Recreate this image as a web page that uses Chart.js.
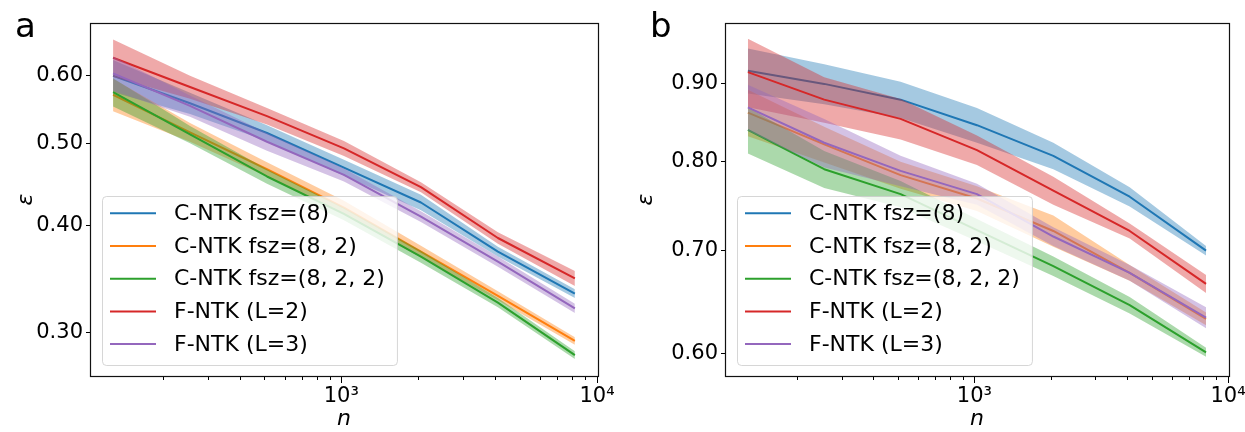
<!DOCTYPE html>
<html>
<head>
<meta charset="utf-8">
<script src="https://cdn.jsdelivr.net/npm/chart.js@4.4.1/dist/chart.umd.min.js"></script>
<style>
  html, body { margin: 0; padding: 0; background: #fff; }
  #wrap { position: relative; width: 1245px; height: 432px; }
  .panel { position: absolute; top: 0; height: 432px; }
</style>
</head>
<body>
<div id="wrap">
  <div class="panel" style="left:0;width:620px"><canvas id="chartA" width="620" height="432"></canvas></div>
  <div class="panel" style="left:620px;width:625px"><canvas id="chartB" width="625" height="432"></canvas></div>
</div>
<script>
// training set sizes
const nValues = [128, 256, 512, 1024, 2048, 4096, 8192];

const seriesLabels = ['C-NTK fsz=(8)', 'C-NTK fsz=(8, 2)', 'C-NTK fsz=(8, 2, 2)', 'F-NTK (L=2)', 'F-NTK (L=3)'];

// panel a : mean error and spread
const cntk8A = [0.600, 0.557, 0.514, 0.468, 0.426, 0.373, 0.333];
const cntk82A = [0.570, 0.515, 0.466, 0.420, 0.373, 0.331, 0.293];
const cntk822A = [0.574, 0.512, 0.457, 0.413, 0.368, 0.325, 0.282];
const fntk2A = [0.630, 0.582, 0.538, 0.493, 0.444, 0.387, 0.347];
const fntk3A = [0.604, 0.553, 0.502, 0.459, 0.410, 0.363, 0.320];

const cntk8StdA = [0.026, 0.016, 0.011, 0.010, 0.009, 0.005, 0.004];
const cntk82StdA = [0.025, 0.013, 0.009, 0.008, 0.006, 0.004, 0.003];
const cntk822StdA = [0.022, 0.012, 0.009, 0.007, 0.006, 0.004, 0.003];
const fntk2StdA = [0.032, 0.018, 0.012, 0.010, 0.006, 0.006, 0.007];
const fntk3StdA = [0.028, 0.016, 0.012, 0.008, 0.006, 0.005, 0.004];

// panel b
const cntk8B = [0.917, 0.899, 0.878, 0.845, 0.807, 0.759, 0.700];
const cntk82B = [0.861, 0.821, 0.784, 0.757, 0.721, 0.677, 0.632];
const cntk822B = [0.839, 0.791, 0.762, 0.722, 0.684, 0.645, 0.601];
const fntk2B = [0.915, 0.878, 0.853, 0.814, 0.766, 0.721, 0.666];
const fntk3B = [0.868, 0.823, 0.789, 0.762, 0.715, 0.677, 0.633];

const cntk8StdB = [0.031, 0.027, 0.024, 0.022, 0.016, 0.011, 0.005];
const cntk82StdB = [0.030, 0.022, 0.016, 0.014, 0.017, 0.008, 0.006];
const cntk822StdB = [0.029, 0.022, 0.015, 0.012, 0.010, 0.008, 0.004];
const fntk2StdB = [0.047, 0.030, 0.026, 0.018, 0.016, 0.008, 0.009];
const fntk3StdB = [0.030, 0.030, 0.018, 0.012, 0.010, 0.008, 0.010];

// axis ticks
const xTickValues = [200, 300, 400, 500, 600, 700, 800, 900, 1000, 2000, 3000, 4000, 5000, 6000, 7000, 8000, 9000, 10000];
const xMajorTicks = [1000, 10000];
const yTicksA = [0.3, 0.4, 0.5, 0.6];
const yTicksB = [0.6, 0.7, 0.8, 0.9];

const colors = ['#1f77b4', '#ff7f0e', '#2ca02c', '#d62728', '#9467bd'];
const bandColors = ['rgba(31,119,180,0.4)', 'rgba(255,127,14,0.4)', 'rgba(44,160,44,0.4)', 'rgba(214,39,40,0.4)', 'rgba(148,103,189,0.4)'];
const FONT = 'DejaVu Sans';

// build upper / lower / mean datasets for every series
function buildDatasets(means, stds) {
  const ds = [];
  means.forEach((m, k) => {
    const base = ds.length;
    const common = { pointRadius: 0, borderWidth: 0, borderColor: 'rgba(0,0,0,0)', tension: 0 };
    ds.push({ ...common, data: nValues.map((n, i) => ({ x: n, y: m[i] + stds[k][i] })), fill: base + 1, backgroundColor: bandColors[k], order: -base });
    ds.push({ ...common, data: nValues.map((n, i) => ({ x: n, y: m[i] - stds[k][i] })), fill: false, order: -(base + 1) });
    ds.push({ data: nValues.map((n, i) => ({ x: n, y: m[i] })), fill: false, pointRadius: 0, borderWidth: 2,
      borderColor: colors[k], borderJoinStyle: 'round', tension: 0, order: -(base + 2) });
  });
  return ds;
}

// frame, minor x ticks, legend box and panel letter
const panelDecor = {
  id: 'panelDecor',
  afterDraw(chart, args, opts) {
    const ctx = chart.ctx;
    const ca = chart.chartArea;
    const xs = chart.scales.x;
    ctx.save();
    ctx.strokeStyle = '#000';
    ctx.lineWidth = 1;
    xs.ticks.forEach(t => {
      if (xMajorTicks.includes(t.value)) return;
      const px = Math.round(xs.getPixelForValue(t.value)) + 0.5;
      ctx.beginPath();
      ctx.moveTo(px, ca.bottom);
      ctx.lineTo(px, ca.bottom + 4);
      ctx.stroke();
    });
    ctx.lineWidth = 1.2;
    ctx.strokeStyle = '#111';
    ctx.strokeRect(Math.round(ca.left) + 0.5, Math.round(ca.top) + 0.5, Math.round(ca.right - ca.left), Math.round(ca.bottom - ca.top));

    // legend
    ctx.font = '22px "' + FONT + '"';
    let maxW = 0;
    seriesLabels.forEach(l => { maxW = Math.max(maxW, ctx.measureText(l).width); });
    const rowH = 32.7;
    const boxH = 169;
    const boxW = 72 + maxW + 12;
    const bx = ca.left + 12;
    const by = ca.bottom - 11 - boxH;
    ctx.beginPath();
    ctx.roundRect(bx + 0.5, by + 0.5, boxW, boxH, 4);
    ctx.fillStyle = 'rgba(255,255,255,0.8)';
    ctx.fill();
    ctx.strokeStyle = 'rgba(204,204,204,0.8)';
    ctx.lineWidth = 1;
    ctx.stroke();
    seriesLabels.forEach((l, i) => {
      const y = by + 17.3 + i * rowH;
      ctx.beginPath();
      ctx.strokeStyle = colors[i];
      ctx.lineWidth = 2;
      ctx.moveTo(bx + 8, y);
      ctx.lineTo(bx + 54, y);
      ctx.stroke();
      ctx.fillStyle = '#000';
      ctx.textBaseline = 'middle';
      ctx.textAlign = 'left';
      ctx.fillText(l, bx + 72, y + 1);
    });

    // panel letter
    ctx.font = '34px "' + FONT + '"';
    ctx.textBaseline = 'alphabetic';
    ctx.fillStyle = '#000';
    ctx.fillText(opts.letter, opts.letterX, 37);
    ctx.restore();
  }
};

function makeChart(canvasId, datasets, yMin, yMax, yTicks, yWidth, padRight, letter, letterX) {
  return new Chart(document.getElementById(canvasId), {
    type: 'line',
    data: { datasets: datasets },
    plugins: [panelDecor],
    options: {
      responsive: false,
      animation: false,
      layout: { padding: { top: 23, right: padRight, bottom: 0, left: 0 } },
      plugins: {
        legend: { display: false },
        tooltip: { enabled: false },
        panelDecor: { letter: letter, letterX: letterX }
      },
      scales: {
        x: {
          type: 'logarithmic',
          min: 104, max: 10090,
          afterBuildTicks: s => { s.ticks = xTickValues.map(v => ({ value: v, major: xMajorTicks.includes(v) })); },
          afterFit: s => { s.height = 56; s.paddingLeft = 0; s.paddingRight = 0; },
          ticks: {
            autoSkip: false, maxRotation: 0, minRotation: 0, padding: 1, color: '#000',
            font: { family: FONT, size: 21 },
            callback: v => v === 1000 ? '10³' : (v === 10000 ? '10⁴' : '')
          },
          grid: {
            drawOnChartArea: false, tickLength: 7, tickWidth: 1,
            tickColor: c => (c.tick && xMajorTicks.includes(c.tick.value)) ? '#000' : 'rgba(0,0,0,0)'
          },
          border: { display: false },
          title: { display: true, text: 'n', color: '#000', padding: 0,
            font: { family: FONT, size: 22, style: 'italic', lineHeight: 1.2 } }
        },
        y: {
          type: 'logarithmic',
          min: yMin, max: yMax,
          afterBuildTicks: s => { s.ticks = yTicks.map(v => ({ value: v })); },
          afterFit: s => { s.width = yWidth; s.paddingTop = 0; s.paddingBottom = 0; },
          ticks: {
            autoSkip: false, padding: 3, color: '#000',
            font: { family: FONT, size: 21 },
            callback: v => Number(v).toFixed(2)
          },
          grid: { drawOnChartArea: false, tickLength: 4, tickColor: '#000' },
          border: { display: false },
          title: { display: true, text: 'ε', color: '#000', padding: { top: 13, bottom: 0 },
            font: { family: FONT, size: 22, style: 'italic', lineHeight: 1.2 } }
        }
      }
    }
  });
}

const datasetsA = buildDatasets([cntk8A, cntk82A, cntk822A, fntk2A, fntk3A], [cntk8StdA, cntk82StdA, cntk822StdA, fntk2StdA, fntk3StdA]);
const datasetsB = buildDatasets([cntk8B, cntk82B, cntk822B, fntk2B, fntk3B], [cntk8StdB, cntk82StdB, cntk822StdB, fntk2StdB, fntk3StdB]);

makeChart('chartA', datasetsA, 0.2665, 0.692, yTicksA, 90, 22, 'a', 15);
makeChart('chartB', datasetsB, 0.584, 0.985, yTicksB, 105, 16, 'b', 30);
</script>
</body>
</html>
